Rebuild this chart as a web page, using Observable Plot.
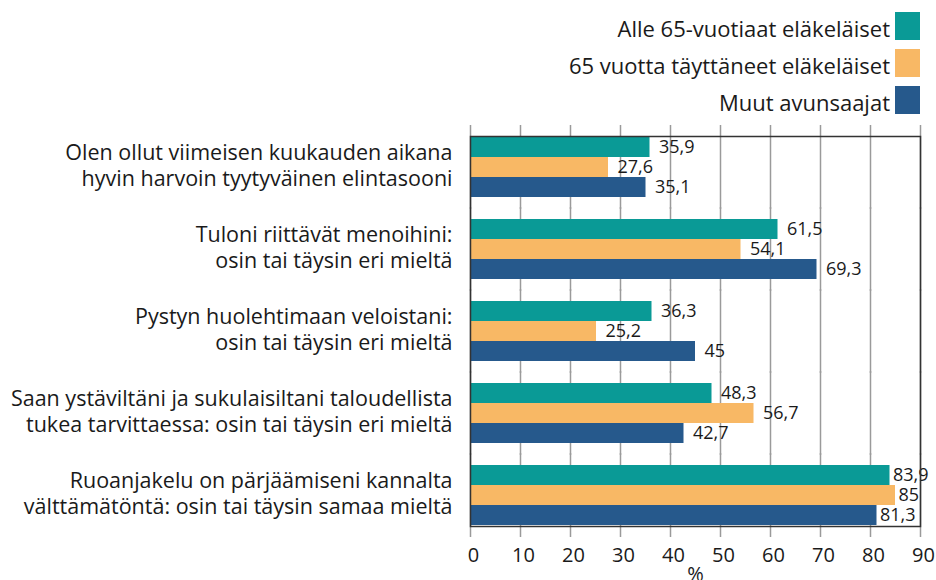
<!DOCTYPE html>
<html>
<head>
<meta charset="utf-8">
<script src="https://cdn.jsdelivr.net/npm/d3@7"></script>
<script src="https://cdn.jsdelivr.net/npm/@observablehq/plot@0.6"></script>
<style>
  html, body { margin: 0; padding: 0; background: #fff; }
  body { width: 936px; height: 580px; overflow: hidden; font-family: "Open Sans", sans-serif; color: #1a1a1a; }
  #legend { height: 120px; box-sizing: border-box; padding-top: 12px; padding-right: 16px; }
  .row { display: flex; justify-content: flex-end; align-items: center; height: 28px; margin-bottom: 9px; }
  .row span { font-size: 22px; line-height: 28px; padding-top: 3px; }
  .row i { display: inline-block; width: 25px; height: 28px; margin-left: 5px; }
  #chart svg { display: block; }
</style>
</head>
<body>
<div id="legend"></div>
<div id="chart"></div>
<script>
const categories = [
  "Olen ollut viimeisen kuukauden aikana\nhyvin harvoin tyytyväinen elintasooni",
  "Tuloni riittävät menoihini:\nosin tai täysin eri mieltä",
  "Pystyn huolehtimaan veloistani:\nosin tai täysin eri mieltä",
  "Saan ystäviltäni ja sukulaisiltani taloudellista\ntukea tarvittaessa: osin tai täysin eri mieltä",
  "Ruoanjakelu on pärjäämiseni kannalta\nvälttämätöntä: osin tai täysin samaa mieltä"
];
const series = ["Alle 65-vuotiaat eläkeläiset", "65 vuotta täyttäneet eläkeläiset", "Muut avunsaajat"];
const colors = ["#0a9a96", "#f8b865", "#26598c"];
const under65 = [35.9, 61.5, 36.3, 48.3, 83.9];
const over65 = [27.6, 54.1, 25.2, 56.7, 85];
const others = [35.1, 69.3, 45, 42.7, 81.3];
const xTicks = [0, 10, 20, 30, 40, 50, 60, 70, 80, 90];

const seriesValues = [under65, over65, others];
const data = [];
categories.forEach((c, i) => {
  series.forEach((s, j) => data.push({category: c, series: s, value: seriesValues[j][i]}));
});
const fmt = v => String(v).replace(".", ",");

// legend
const legend = document.getElementById("legend");
series.forEach((s, j) => {
  const row = document.createElement("div");
  row.className = "row";
  row.innerHTML = `<span>${s}</span><i style="background:${colors[j]}"></i>`;
  legend.appendChild(row);
});

const chart = Plot.plot({
  width: 936,
  height: 460,
  marginLeft: 470,
  marginRight: 16,
  marginTop: 4,
  marginBottom: 41,
  style: {fontFamily: "Open Sans, sans-serif", color: "#1a1a1a", background: "#fff"},
  x: {domain: [0, 90], nice: false},
  y: {domain: series, padding: 0, axis: null},
  fy: {domain: categories, paddingInner: 0.24, paddingOuter: 0.13, label: null},
  color: {domain: series, range: colors},
  marks: [
    Plot.gridX({ticks: xTicks, stroke: "#9a9a9a", strokeOpacity: 1, strokeWidth: 1.5, insetTop: -11, insetBottom: -11}),
    Plot.barX(data, {fy: "category", y: "series", x: "value", fill: "series"}),
    Plot.text(data.filter(d => d.value < 80), {fy: "category", y: "series", x: "value", text: d => fmt(d.value), textAnchor: "start", dx: 9, fontSize: 18, fill: "#1a1a1a"}),
    Plot.text(data.filter(d => d.value >= 80), {fy: "category", y: "series", x: "value", text: d => fmt(d.value), textAnchor: "start", dx: 3, fontSize: 18, fill: "#1a1a1a"}),
    Plot.frame({facet: "super", stroke: "#333", strokeWidth: 1.5}),
    Plot.axisFy({anchor: "left", tickSize: 0, tickPadding: 18, fontSize: 21.5, lineHeight: 1.21, dy: -3, label: null}),
    Plot.axisX({ticks: xTicks, tickSize: 0, tickPadding: 21, dx: 3, fontSize: 20, label: "%", labelAnchor: "center", labelArrow: "none", labelOffset: 54})
  ]
});
document.getElementById("chart").appendChild(chart);
</script>
</body>
</html>
